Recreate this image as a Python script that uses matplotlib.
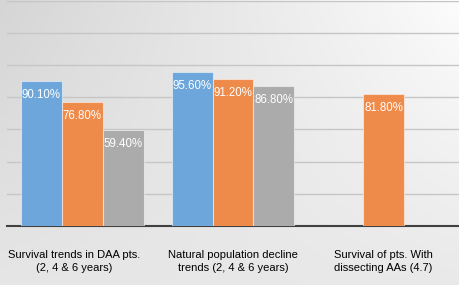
import numpy as np
import matplotlib
matplotlib.use("Agg")
import matplotlib.pyplot as plt
import matplotlib.transforms as mtransforms

categories = ["Survival trends in DAA pts.\n(2, 4 & 6 years)",
              "Natural population decline\ntrends (2, 4 & 6 years)",
              "Survival of pts. With\ndissecting AAs (4.7)"]
series1 = [90.1, 95.6, None]
series2 = [76.8, 91.2, 81.8]
series3 = [59.4, 86.8, None]
colors = ["#6ca6da", "#ee8a4a", "#ababab"]

plt.rcParams['font.family'] = ['Liberation Sans', 'DejaVu Sans']

W, H = 459, 285
fig = plt.figure(figsize=(W / 100, H / 100), dpi=100)

# background gradient (bilinear)
bg = fig.add_axes([0, 0, 1, 1])
xs = np.linspace(0, 1, 200)
ys = np.linspace(0, 1, 200)
X, Y = np.meshgrid(xs, ys)
TL, TR, BL, BR = 213, 252, 230, 233
V = (TL * (1 - X) * (1 - Y) + TR * X * (1 - Y) + BL * (1 - X) * Y + BR * X * Y) / 255.0
bg.imshow(np.dstack([V, V, V]), aspect='auto', extent=[0, 1, 1, 0])
bg.set_axis_off()

ax = fig.add_axes([7 / W, 1 - 226 / H, 1 - 7 / W, 226 / H - 0.002])
ax.patch.set_alpha(0)
ax.set_xlim(-0.5, 2.5)
ax.set_ylim(0, 140)

bw = 0.272
x = np.arange(len(categories))
for vals, off, c in zip([series1, series2, series3], [-1, 0, 1], colors):
    for i, v in enumerate(vals):
        if v is None:
            continue
        pos = i + off * bw if not (vals is series2 and series1[i] is None) else i
        ax.bar(pos, v, width=bw, color=c, edgecolor=(1, 1, 1, 0.5), linewidth=0.8, zorder=3)
        ax.annotate(f"{v:.2f}%", (pos, v), xytext=(0, -10), textcoords='offset points',
                    ha='center', va='center', color='white', fontsize=8.3, zorder=4)

ax.set_yticks(np.arange(20, 141, 20))
ax.yaxis.grid(True, color='#c6c6c6', linewidth=1.0, zorder=0)
ax.tick_params(axis='y', left=False, labelleft=False)
ax.set_xticks(x)
ax.set_xticklabels(categories, fontsize=8, linespacing=1.35)
ax.tick_params(axis='x', length=0, pad=17.5)
first = ax.get_xticklabels()[0]
first.set_transform(first.get_transform() + mtransforms.ScaledTranslation(-8 / 100, 0, fig.dpi_scale_trans))
for s in ['top', 'right', 'left']:
    ax.spines[s].set_visible(False)
ax.spines['bottom'].set_color('#404040')
ax.spines['bottom'].set_linewidth(1.5)

fig.savefig("out.png", dpi=100)
